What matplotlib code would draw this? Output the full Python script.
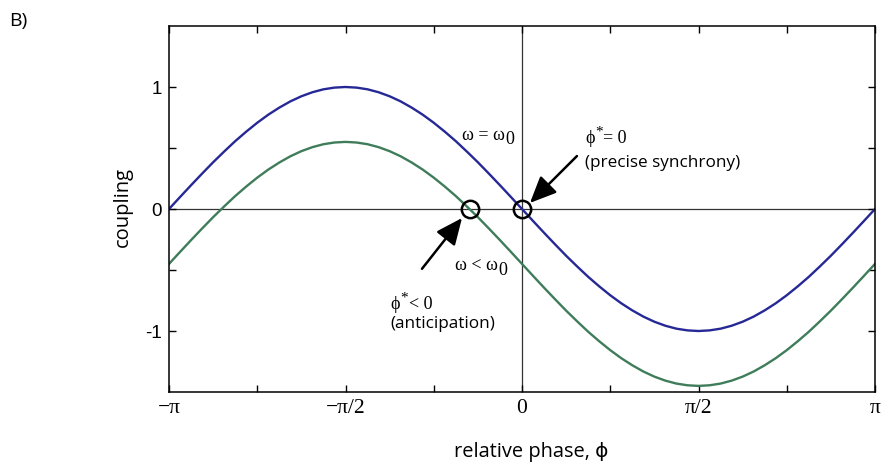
import numpy as np
import matplotlib
matplotlib.use('Agg')
import matplotlib.pyplot as plt

# relative phase samples, every pi/32 from -pi to pi
phase = np.linspace(-np.pi, np.pi, 65)

# coupling for omega = omega_0 (blue)
coupling_eq = [0.000, 0.098, 0.195, 0.290, 0.383, 0.471, 0.556, 0.634, 0.707,
               0.773, 0.831, 0.882, 0.924, 0.957, 0.981, 0.995, 1.000,
               0.995, 0.981, 0.957, 0.924, 0.882, 0.831, 0.773, 0.707,
               0.634, 0.556, 0.471, 0.383, 0.290, 0.195, 0.098, 0.000,
               -0.098, -0.195, -0.290, -0.383, -0.471, -0.556, -0.634, -0.707,
               -0.773, -0.831, -0.882, -0.924, -0.957, -0.981, -0.995, -1.000,
               -0.995, -0.981, -0.957, -0.924, -0.882, -0.831, -0.773, -0.707,
               -0.634, -0.556, -0.471, -0.383, -0.290, -0.195, -0.098, 0.000]

# coupling for omega < omega_0 (green)
coupling_lt = [-0.450, -0.352, -0.255, -0.160, -0.067, 0.021, 0.106, 0.184, 0.257,
               0.323, 0.381, 0.432, 0.474, 0.507, 0.531, 0.545, 0.550,
               0.545, 0.531, 0.507, 0.474, 0.432, 0.381, 0.323, 0.257,
               0.184, 0.106, 0.021, -0.067, -0.160, -0.255, -0.352, -0.450,
               -0.548, -0.645, -0.740, -0.833, -0.921, -1.006, -1.084, -1.157,
               -1.223, -1.281, -1.332, -1.374, -1.407, -1.431, -1.445, -1.450,
               -1.445, -1.431, -1.407, -1.374, -1.332, -1.281, -1.223, -1.157,
               -1.084, -1.006, -0.921, -0.833, -0.740, -0.645, -0.548, -0.450]

# fixed points (phi*, coupling)
fixed_x = [-0.463, 0.0]
fixed_y = [0.0, 0.0]

xtick_pos = [-np.pi, -np.pi/2, 0, np.pi/2, np.pi]
xtick_labels = ['\u2212\u03c0', '\u2212\u03c0/2', '0', '\u03c0/2', '\u03c0']
ytick_pos = [-1, 0, 1]
ytick_labels = ['-1', '0', '1']

blue = '#262896'
green = '#3f7d5a'

fig = plt.figure(figsize=(8.81, 4.69), dpi=100)
ax = fig.add_axes([169/881, 1 - 392/469, 706/881, 366/469])

ax.axhline(0, color='#333333', lw=0.9, zorder=1)
ax.axvline(0, color='#333333', lw=0.9, zorder=1)
ax.plot(phase, coupling_eq, color=blue, lw=1.7, zorder=2)
ax.plot(phase, coupling_lt, color=green, lw=1.7, zorder=2)
ax.plot(fixed_x, fixed_y, 'o', ms=12.5, mfc='none', mec='black', mew=1.8, zorder=3)

ax.set_xlim(-np.pi, np.pi)
ax.set_ylim(-1.5, 1.5)
ax.set_xticks(xtick_pos)
ax.set_xticklabels(xtick_labels, family=['Liberation Serif', 'DejaVu Sans'], fontsize=15.5)
ax.set_xticks(np.arange(-3, 4, 2) * np.pi / 4, minor=True)
ax.set_yticks(ytick_pos)
ax.set_yticklabels(ytick_labels, family='Liberation Sans', fontsize=13.5)
ax.set_yticks([-0.5, 0.5], minor=True)
ax.tick_params(which='both', direction='in', top=True, right=True, length=5, width=1)
ax.tick_params(axis='x', pad=5)
ax.tick_params(axis='y', pad=5)
for s in ax.spines.values():
    s.set_linewidth(1.1)

serif = ['Liberation Serif', 'DejaVu Serif']
sans = ['Open Sans', 'DejaVu Sans']


def chain(prev, s, dy=0, size=13):
    # put text s right after text prev, shifted dy points vertically
    return ax.annotate(s, xy=(1, 0), xycoords=prev, xytext=(0.5, dy),
                       textcoords='offset points', family=serif, fontsize=size,
                       va='bottom')


t = ax.text(-0.534, 0.6, '\u03c9 = \u03c9', family=serif, fontsize=13, va='center')
chain(t, '0', dy=-3)
t = ax.text(-0.596, -0.467, '\u03c9 < \u03c9', family=serif, fontsize=13, va='center')
chain(t, '0', dy=-3)

t = ax.text(0.56, 0.58, '\u03d5', family=serif, fontsize=13, va='center')
t2 = chain(t, '*', dy=6, size=11)
ax.annotate('= 0', xy=(1, 0), xycoords=t2, xytext=(0.5, -6), textcoords='offset points',
            family=serif, fontsize=13, va='bottom')
ax.text(0.56, 0.377, '(precise synchrony)', family=sans, fontsize=12.3, va='center')

t = ax.text(-1.174, -0.78, '\u03d5', family=serif, fontsize=13, va='center')
t2 = chain(t, '*', dy=6, size=11)
ax.annotate('< 0', xy=(1, 0), xycoords=t2, xytext=(0.5, -6), textcoords='offset points',
            family=serif, fontsize=13, va='bottom')
ax.text(-1.174, -0.94, '(anticipation)', family=sans, fontsize=12.3, va='center')

arrow = dict(arrowstyle='-|>,head_length=0.9,head_width=0.4', color='black',
             lw=1.8, mutation_scale=18, shrinkA=0, shrinkB=0)
ax.annotate('', xy=(0.071, 0.05), xytext=(0.489, 0.434), arrowprops=arrow)
ax.annotate('', xy=(-0.534, -0.074), xytext=(-0.89, -0.49), arrowprops=arrow)

fig.text(531/881, 1 - 452/469, 'relative phase, \u03d5', family=sans + ['Liberation Serif'],
         fontsize=14.4, ha='center', va='center')
fig.text(123/881, 1 - 207/469, 'coupling', family=sans, fontsize=14.5,
         rotation=90, ha='center', va='center')
fig.text(9/881, 1 - 21/469, 'B)', family=sans, fontsize=14, ha='left', va='center')

fig.savefig('out.png', dpi=100)
